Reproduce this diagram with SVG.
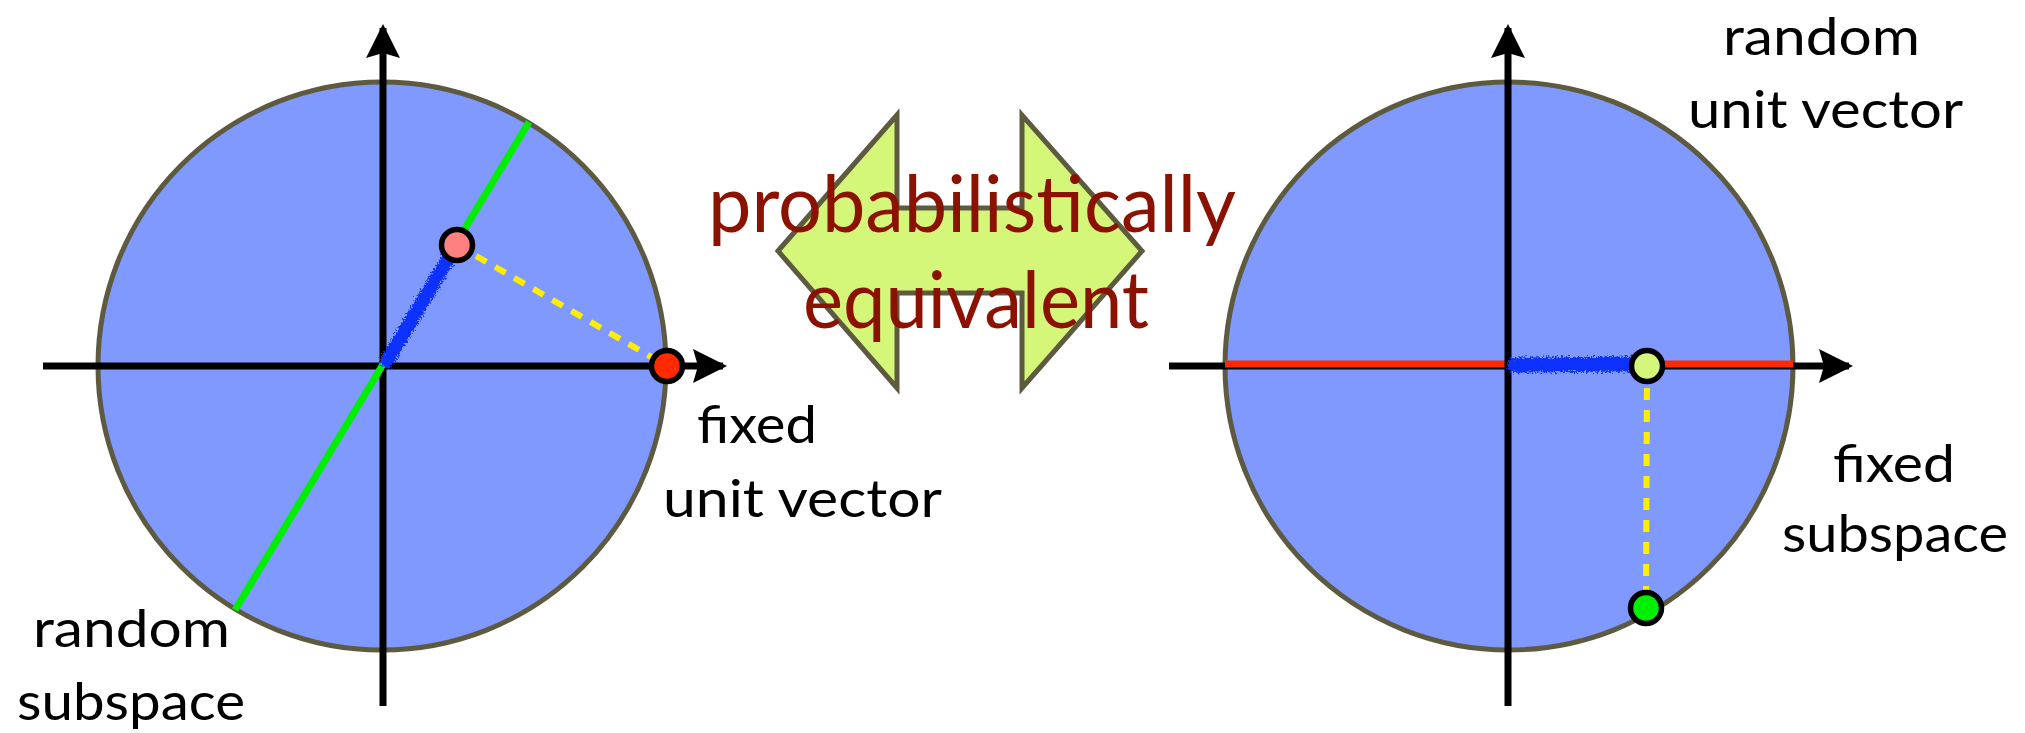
<svg xmlns="http://www.w3.org/2000/svg" width="2025" height="733" viewBox="0 0 2025 733">
<defs>
<style>
.disk{fill:#8099ff;stroke:#5e5a40;stroke-width:5}
.axis{stroke:#000;stroke-width:7;fill:none}
.dash{stroke:#ffee00;stroke-width:6;stroke-dasharray:12 10;fill:none}
.pt{stroke:#000;stroke-width:5.5}
.lbl{font-family:Lato,"Liberation Sans",sans-serif;font-size:53px;fill:#000}
.big{font-family:Lato,"Liberation Sans",sans-serif;font-size:80px;fill:#8b1100}
.blue{stroke:#0a30ff;fill:none;stroke-linecap:round}
</style>
<marker id="ah" viewBox="0 0 34 34" refX="30" refY="17" markerWidth="34" markerHeight="34" markerUnits="userSpaceOnUse" orient="auto">
<path d="M0,0 L34,17 L0,34 L5,17 Z" fill="#000"/>
</marker>
<filter id="rough" filterUnits="userSpaceOnUse" x="0" y="0" width="2025" height="733">
<feTurbulence type="fractalNoise" baseFrequency="0.6" numOctaves="2" seed="3" result="n"/>
<feDisplacementMap in="SourceGraphic" in2="n" scale="9" xChannelSelector="R" yChannelSelector="G"/>
</filter>
</defs>

<g id="left-diagram">
<circle class="disk" cx="382" cy="366" r="284"/>
<line class="axis" x1="43" y1="366" x2="723" y2="366" marker-end="url(#ah)"/>
<line class="axis" x1="383" y1="706" x2="383" y2="28" marker-end="url(#ah)"/>
<line x1="235" y1="610" x2="529" y2="122" stroke="#00ee00" stroke-width="7"/>
<g filter="url(#rough)"><path class="blue" d="M387,361 L451,254" stroke-width="14"/></g>
<line class="dash" x1="457" y1="245" x2="667" y2="366"/>
<circle id="pink-point" class="pt" cx="457" cy="245" r="15.5" fill="#ff8080"/>
<circle id="red-point" class="pt" cx="667" cy="366" r="15.5" fill="#ff2a00"/>
</g>

<g id="right-diagram">
<circle class="disk" cx="1509" cy="366" r="284"/>
<line class="axis" x1="1169" y1="366" x2="1849" y2="366" marker-end="url(#ah)"/>
<line x1="1225" y1="364" x2="1793" y2="364" stroke="#ff2a00" stroke-width="7"/>
<line class="axis" x1="1508" y1="706" x2="1508" y2="28" marker-end="url(#ah)"/>
<g filter="url(#rough)"><path class="blue" d="M1515,365 L1636,364" stroke-width="15"/></g>
<line class="dash" x1="1647" y1="366" x2="1646" y2="608"/>
<circle id="lightgreen-point" class="pt" cx="1647" cy="366" r="15.5" fill="#d4f77a"/>
<circle id="green-point" class="pt" cx="1646" cy="608" r="15.5" fill="#00ee00"/>
</g>

<g id="double-arrow">
<polygon points="778,251 897,115 897,208 1022,208 1022,115 1142,251 1022,388 1022,293 897,293 897,388" fill="#d4f77a" stroke="#5e5a40" stroke-width="5" stroke-linejoin="miter"/>
<text class="big" x="708" y="232" textLength="528" lengthAdjust="spacingAndGlyphs">probabilistically</text>
<text class="big" x="803" y="328" textLength="346" lengthAdjust="spacingAndGlyphs">equivalent</text>
</g>

<g id="labels">
<text class="lbl" x="697" y="443" textLength="120" lengthAdjust="spacingAndGlyphs">fixed</text>
<text class="lbl" x="663" y="517" textLength="279" lengthAdjust="spacingAndGlyphs">unit vector</text>
<text class="lbl" x="33" y="647" textLength="197" lengthAdjust="spacingAndGlyphs">random</text>
<text class="lbl" x="17" y="720" textLength="228" lengthAdjust="spacingAndGlyphs">subspace</text>
<text class="lbl" x="1723" y="55" textLength="197" lengthAdjust="spacingAndGlyphs">random</text>
<text class="lbl" x="1688" y="128" textLength="275" lengthAdjust="spacingAndGlyphs">unit vector</text>
<text class="lbl" x="1833" y="482" textLength="122" lengthAdjust="spacingAndGlyphs">fixed</text>
<text class="lbl" x="1782" y="552" textLength="226" lengthAdjust="spacingAndGlyphs">subspace</text>
</g>
</svg>
